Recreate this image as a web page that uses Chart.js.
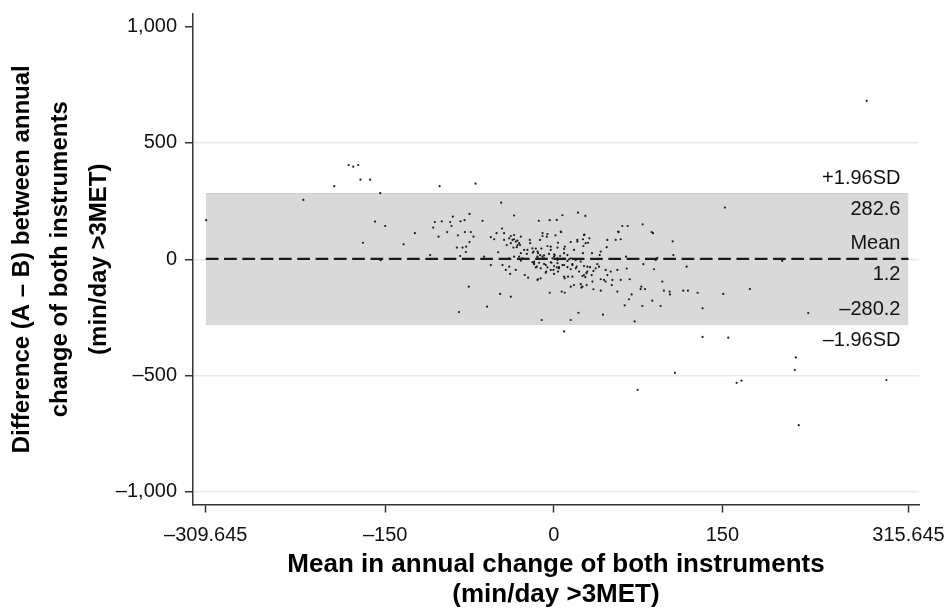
<!DOCTYPE html>
<html lang="en">

<head>
    <meta charset="UTF-8">
    <script src="https://cdn.jsdelivr.net/npm/chart.js"></script>
    <title>Bland-Altman</title>
    <style>
        body { margin: 0; background: #fff; }
    </style>
</head>

<body>
    <canvas id="grafico" width="945" height="610"></canvas>
</body>

</html>

<script>
    // mean of both instruments (x) and difference A - B (y)
    var meanAB = [-309.3, -222.8, -195.3, -182.5, -178.4, -174, -172, -163.3, -154.4, -159, -150, -169.8, -133.6, -123.6, -110, -154,
        -101.6, -69.6, -107.3, -105.8, -99.6, -102.5, -94.8, -92.2, -89.8, -91, -83, -79.4, -75, -85.3, -79.1, -73.8, -71.4, -75,
        -86.2, -81.2, -78, -83.3, -78.2, -63.4, -46.8, -35.3, -13.3, -3.6, -75.6, -47.7, -38.2, -59.3, -84.4, -10.7, -3.6, -62, -41.8,
        -56, -53, -50.9, -46, -44.2, -38.2, -35.3, -32.3, -30, -21.3, -12.2, -10, -29.3, -23.4, -19, -14.5, -56, -45.6, -42.7, -38.8,
        -33.8, -25.8, -22.8, -14.5, -17.5, -7.1, -6.8,
        -44.2, -39.7, -29.3, -38.2, -30.8, -32.9, -21, -16, -11, -5.6, -6.2, -10, 1.5, 3.8, -49.5, -26.4, -24, -18.7, -14, -14.5, -8.6,
        -4.2, 0.3, 3.3, -39.7, -35.3, -29.3, -17.5, -13, -8.6, -2, -16, -11.6, -5.6, -0.3, 2.7, -7.1, 0.3, -14, 4.7,
        -35.3, -36.7, -33.8, -41.8, -32.3, -35.9, -18, -12.1, -10, -8.6, -14.5, -5.6, 6.2, -2.7, 3.3, 9.2, 0.3, 12.2, 15.1, 21, 26.9,
        28.4, 18, 41.8, -27.8, -30.8, -39.7, -17.5, -15.1, -19, -2.7, 3.3, 7.7, 12.2, 16.6, 19.6, 24, 29.9, 38.8, -11.6, 9.2, 16.6,
        26.9, 29.9, 24, 25.5, 15.1, 34.4, 44.7, 47.7,
        21.6, 28.1, 7.7, 2.7, 6.5, 27.3, 26, 31.7, 30.5, 21, 15.1, 9.8, 9.2, 5.6, 0.9, -2.7, 26.4, 26, 34, 40.9, 47.7, 47.1, 55.1,
        59.6, 57.8, 61, 65.8, 79.1, 87.1, 88.3, 105.8, 106.4, 64.3, 92.2, -1.2, 3.3, 8.6, 13.6, 19.6, 24.6, 0.3, 4.7, 9.2, 12.2,
        16.6, 20.4, 26.9, 32.3, 37.3, 40.3, -2.7, 3.8, 15.1, 22.5, 29, 35.3, 46.2, 50.7, 56.6, 64.9, 9.8, 12.7, 25.5, 28.1, 33.8,
        41.8, 46.2, 52.2, 59.6, 67.6, 18, 24.6, 29.3, 35.3, 41.8, 51.6, 56.6, 69.3, 77.9, 77.3, 81.2, 96.6, 98, 103.1, 103.4, 115.3,
        119.4, 7.1, 9.8, 66.9, 63.1, 78.8, 87.7, 95.1, 22, 43.8, 15.1, 72, 9.2,
        278.5, 152.3, 118.2, 203.3, 150.8, 174.5, 132.4, 128, 226.4, 132.4, 155.3, 215.4, 214.5, 107.8, 162.7, 167.1, 74.7, 296,
        218, 57.2, 79.7, 90.7, 89.2]

    var diffAB = [168, 255, 314, 405, 398, 405, 342, 342, 284, 162, 143, 71, 64, 112, 18, -4,
        314, 325, 136, 160, 163, 97, 117, 160, 183, 143, 163, 168, 195, 103, 117, 117, 97, 74,
        50, 50, 54, 14, 31, 165, 243, 188, 165, 168, -118, -149, -161, -204, -227, -261, -144, 11, 1,
        95, 86, 112, 132, 83, 100, 86, 80, 61, 83, 83, 100, 26, 40, 47, 33, -25, -25, -46, -63,
        -46, -68, -79, -89, -17, -25, -53,
        112, 90, 97, 69, 69, 52, 69, 46, 46, 57, 97, 112, 103, 71, 30, 40, 23, 28, 26, 11, 17,
        23, 11, 4, 4, 11, -6, -10, -15, -20, -15, -35, -39, -35, -46, -35, -58, -63, -86, -39,
        104, 83, 76, 61, 61, 50, 33, 18, 11, 4, 7, 108, 119, 54, 50, 44, 21, 18, 4, 83, 104,
        69, 40, 33, 4, 11, -32, -21, -32, -13, -13, -17, -25, -7, -21, -39, -10, -32, -21, -82, -75, -75,
        -68, -53, -107, -118, -118, -96, -89, -68,
        200, 186, 189, 169, 117, 106, 86, 90, 71, 76, 74, 54, 26, 14, 18, 40, 57, 26, 26, 18, 83, 52, 83,
        86, 117, 143, 143, 150, 117, 112, 77, 18, 11, 6, 4, -3, 3, 0, -3, 0, -29, -34, -25, -34,
        -25, -32, -29, -34, -39, -32, -46, -53, -43, -53, -60, -50, -46, -53, -46, -40, -82, -75, -72, -77, -68,
        -86, -96, -89, -89, -86, -111, -122, -111, -129, -135, -111, -139, -151, -118, -128, -128, -96, -135, -139, -151, -135,
        -135, -139, -144, -172, -198, -201, -178, -201, -230, -238, -261, -267, -310,
        681, 222, -32, -7, -149, -128, -211, -144, -231, -334, -337, -422, -476, -488, -531, -522, -561, -519,
        -713, 119, -21, -3, -43]

    var xTicks = [-309.645, -150, 0, 150, 315.645]
    var yTicks = [-1000, -500, 0, 500, 1000]

    // limits of agreement: upper, mean, lower
    var limitValues = [282.6, 1.2, -280.2]
    var limitNames = ['+1.96SD', 'Mean', '–1.96SD']
    var limitTexts = ['282.6', '1.2', '–280.2']

    var xMin = xTicks[0]
    var xMax = xTicks[xTicks.length - 1]

    function fmt(v) {
        var s = Math.abs(v).toLocaleString('en-US', { maximumFractionDigits: 3 })
        return (v < 0 ? '–' : '') + s
    }

    var pontos = meanAB.map(function (x, i) { return { x: x, y: diffAB[i] } })

    function linha(v) {
        return [{ x: xMin, y: v }, { x: xMax, y: v }]
    }

    var fonte = "'Liberation Sans', Arial, sans-serif"

    var rotulos = {
        id: 'rotulos',
        afterDatasetsDraw: function (chart) {
            var ctx = chart.ctx
            var y = chart.scales.y
            var xr = chart.scales.x.getPixelForValue(xMax) - 8
            ctx.save()
            ctx.font = '20px ' + fonte
            ctx.fillStyle = '#111'
            ctx.textAlign = 'right'
            ctx.textBaseline = 'middle'
            for (var i = 0; i < limitValues.length; i++) {
                var py = y.getPixelForValue(limitValues[i])
                var above = i === 2 ? limitTexts[i] : limitNames[i]
                var below = i === 2 ? limitNames[i] : limitTexts[i]
                ctx.fillText(above, xr, py - 15)
                ctx.fillText(below, xr, py + 16)
            }
            ctx.restore()
        }
    }

    var grafico = new Chart(document.getElementById('grafico').getContext('2d'), {
        type: 'scatter',
        data: {
            datasets: [{
                label: 'pontos',
                data: pontos,
                pointRadius: 1.1,
                pointBackgroundColor: '#1a1a1a',
                pointBorderWidth: 0,
                order: 0
            },
            {
                type: 'line',
                label: 'Mean',
                data: linha(limitValues[1]),
                borderColor: '#1a1a1a',
                borderWidth: 2.2,
                borderDash: [12.7, 5.6],
                pointRadius: 0,
                fill: false,
                order: 1
            },
            {
                type: 'line',
                label: '+1.96SD',
                data: linha(limitValues[0]),
                borderColor: '#d0d0d0',
                borderWidth: 1,
                backgroundColor: '#d9d9d9',
                pointRadius: 0,
                fill: '+1',
                order: 2
            },
            {
                type: 'line',
                label: '-1.96SD',
                data: linha(limitValues[2]),
                borderColor: '#d0d0d0',
                borderWidth: 1,
                pointRadius: 0,
                fill: false,
                order: 3
            }]
        },
        options: {
            responsive: false,
            animation: false,
            layout: { padding: { left: 0, right: 26, top: 14, bottom: 0 } },
            plugins: {
                legend: { display: false },
                tooltip: { enabled: false }
            },
            scales: {
                x: {
                    type: 'linear',
                    min: -321,
                    max: 325,
                    afterBuildTicks: function (s) { s.ticks = xTicks.map(function (v) { return { value: v } }) },
                    afterFit: function (s) { s.height = 105.5; s.paddingLeft = 0; s.paddingRight = 0 },
                    border: { color: '#333', width: 1.5 },
                    grid: { drawOnChartArea: false, tickLength: 8, tickColor: '#333', tickWidth: 1.5 },
                    ticks: {
                        autoSkip: false,
                        maxRotation: 0,
                        padding: 11,
                        color: '#111',
                        font: { family: fonte, size: 20 },
                        callback: function (v) { return fmt(v) }
                    },
                    title: {
                        display: true,
                        text: ['Mean in annual change of both instruments', '(min/day >3MET)'],
                        color: '#000',
                        font: { family: fonte, size: 26, weight: 'bold', lineHeight: 1.154 },
                        padding: { top: 0, bottom: 0 }
                    }
                },
                y: {
                    min: -1054,
                    max: 1054,
                    afterBuildTicks: function (s) { s.ticks = yTicks.map(function (v) { return { value: v } }) },
                    afterFit: function (s) { s.width = 193; s.paddingTop = 0; s.paddingBottom = 0 },
                    border: { color: '#333', width: 1.5 },
                    grid: {
                        color: function (c) { return c.tick && c.tick.value === 1000 ? 'rgba(0,0,0,0)' : '#e3ecea' },
                        lineWidth: 1.5,
                        tickLength: 8,
                        tickColor: '#333',
                        tickWidth: 1.5
                    },
                    ticks: {
                        autoSkip: false,
                        padding: 8,
                        color: '#111',
                        font: { family: fonte, size: 20 },
                        callback: function (v) { return fmt(v) }
                    },
                    title: {
                        display: true,
                        text: ['Difference (A – B) between annual', 'change of both instruments', '(min/day >3MET)'],
                        color: '#000',
                        font: { family: fonte, size: 24, weight: 'bold', lineHeight: 1.6 },
                        padding: { top: 3, bottom: 0 }
                    }
                }
            }
        },
        plugins: [rotulos]
    });
</script>
